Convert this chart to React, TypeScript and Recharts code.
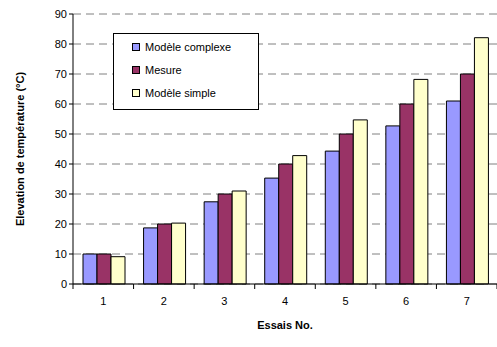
import React from 'react';
import { Bar, BarChart, CartesianGrid, Legend, XAxis, YAxis } from 'recharts';

const essais = ['1', '2', '3', '4', '5', '6', '7'];
const modeleComplexe = [10, 18.7, 27.4, 35.3, 44.3, 52.7, 61];
const mesure = [10, 20, 30, 40, 50, 60, 70];
const modeleSimple = [9.1, 20.3, 31, 42.8, 54.7, 68.2, 82.1];
const yTicks = [0, 10, 20, 30, 40, 50, 60, 70, 80, 90];

const series = [
  { key: 'complexe', name: 'Modèle complexe', color: '#9999FF' },
  { key: 'mesure', name: 'Mesure', color: '#993366' },
  { key: 'simple', name: 'Modèle simple', color: '#FFFFCC' }
];

const data = essais.map((essai, i) => ({
  essai,
  complexe: modeleComplexe[i],
  mesure: mesure[i],
  simple: modeleSimple[i]
}));

const FONT = '"Liberation Sans", Arial, sans-serif';

function XTick(props: any) {
  const { x, y, payload, index } = props;
  const half = payload.offset || 30.3;
  return (
    <g>
      <line x1={x - half} y1={y - 8} x2={x - half} y2={y - 3} stroke="#000" />
      {index === essais.length - 1 && (
        <line x1={x + half} y1={y - 8} x2={x + half} y2={y - 3} stroke="#000" />
      )}
      <text x={x} y={y + 13} textAnchor="middle" fontSize={11} fill="#000" fontFamily={FONT}>
        {payload.value}
      </text>
    </g>
  );
}

function LegendBox() {
  return (
    <div
      style={{
        border: '1px solid #000',
        background: '#fff',
        width: 144,
        height: 74,
        boxSizing: 'content-box',
        fontFamily: FONT,
        fontSize: 11,
        paddingTop: 1
      }}
    >
      {series.map((s) => (
        <div key={s.key} style={{ display: 'flex', alignItems: 'center', height: 23, paddingLeft: 18 }}>
          <span
            style={{
              display: 'inline-block',
              width: 6,
              height: 6,
              background: s.color,
              border: '1px solid #000',
              marginRight: 5
            }}
          />
          <span>{s.name}</span>
        </div>
      ))}
    </div>
  );
}

export default function App() {
  return (
    <div style={{ position: 'absolute', left: 0, top: 0, width: 497, height: 347, background: '#fff' }}>
      <BarChart
        width={497}
        height={347}
        data={data}
        margin={{ top: 14, right: 0, bottom: 0, left: 0 }}
        barCategoryGap={10}
        barGap={0}
      >
        <CartesianGrid horizontal vertical={false} stroke="#808080" strokeDasharray="8 5" />
        <XAxis
          dataKey="essai"
          height={63}
          stroke="#000"
          tickLine={false}
          tick={<XTick />}
          label={{
            value: 'Essais No.',
            position: 'insideBottom',
            offset: 18,
            style: { fontFamily: FONT, fontSize: 11, fontWeight: 'bold', fill: '#000' }
          }}
        />
        <YAxis
          width={73}
          domain={[0, 90]}
          ticks={yTicks}
          interval={0}
          stroke="#000"
          tickSize={4}
          tick={{ fontFamily: FONT, fontSize: 11, fill: '#000' }}
          label={{
            value: 'Elevation de température (°C)',
            angle: -90,
            position: 'insideLeft',
            offset: 20,
            style: { textAnchor: 'middle', fontFamily: FONT, fontSize: 11, fontWeight: 'bold', fill: '#000' }
          }}
        />
        <Legend
          layout="vertical"
          verticalAlign="middle"
          align="center"
          content={<LegendBox />}
          wrapperStyle={{ left: 113, top: 33, width: 146 }}
        />
        {series.map((s) => (
          <Bar
            key={s.key}
            dataKey={s.key}
            name={s.name}
            fill={s.color}
            stroke="#000"
            strokeWidth={1}
            isAnimationActive={false}
          />
        ))}
      </BarChart>
    </div>
  );
}
